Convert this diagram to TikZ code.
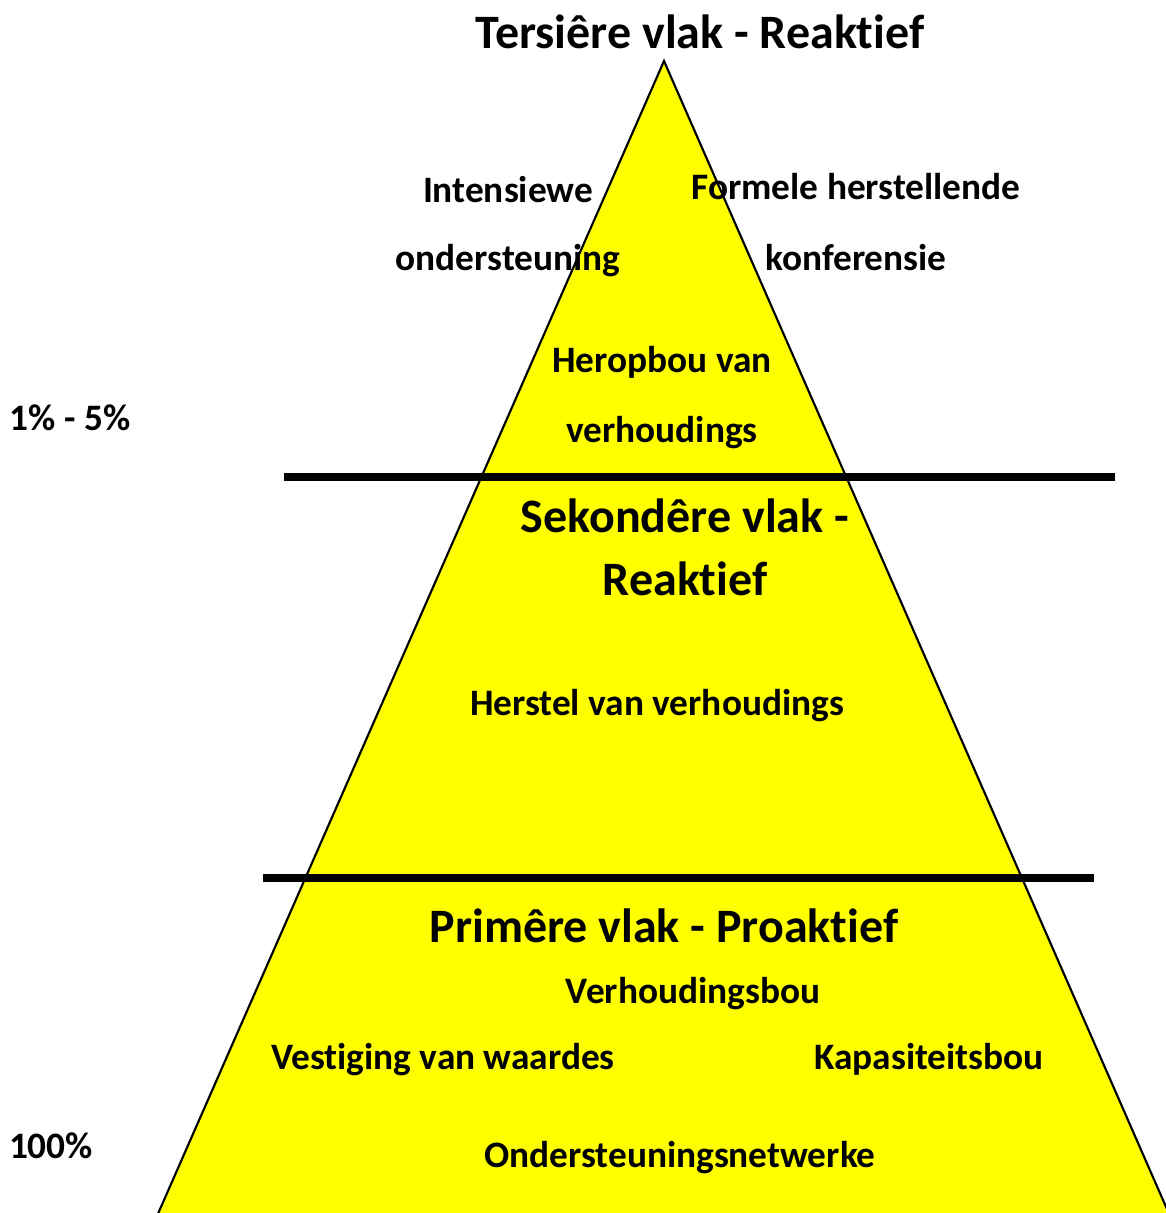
\documentclass[tikz,border=0pt]{standalone}
\usepackage{fontspec}
\setmainfont{Carlito}[Ligatures=NoCommon,RawFeature=-clig]
\definecolor{pyramid}{RGB}{255,255,0}
\begin{document}
\begin{tikzpicture}[x=0.75pt,y=-0.75pt]
\tikzstyle{title}=[font=\bfseries\fontsize{36}{44}\selectfont, align=center, inner sep=0pt]
\tikzstyle{item}=[font=\bfseries\fontsize{28}{34}\selectfont, align=center, inner sep=0pt]
\tikzstyle{divider}=[line width=6pt]

\useasboundingbox (0,0) rectangle (1165,1213);

\coordinate (apex) at (664, 61);
\coordinate (bl) at (157, 1216);
\coordinate (br) at (1170, 1216);
\fill[pyramid] (bl) -- (apex) -- (br) -- cycle;
\draw[line width=1.6pt] (bl) -- (apex) -- (br);

\draw[divider] (284, 477) -- (1115, 477);
\draw[divider] (263, 878) -- (1094, 878);

\node[title] (tert) at (700, 32) {Tersiêre vlak - Reaktief};
\node[item] (int1) at (508, 190) {Intensiewe};
\node[item] (int2) at (508, 261) {ondersteuning};
\node[item] (form1) at (856, 187) {Formele herstellende};
\node[item] (form2) at (856, 258) {konferensie};
\node[item] (her1) at (662, 362) {Heropbou van};
\node[item] (her2) at (662, 433) {verhoudings};
\node[item] (pct1) at (70, 418) {1\% - 5\%};

\node[title] (sek1) at (685, 516) {Sekondêre vlak -};
\node[title] (sek2) at (685, 579) {Reaktief};
\node[item] (hers) at (657, 706) {Herstel van verhoudings};

\node[title] (prim) at (664, 926) {Primêre vlak - Proaktief};
\node[item] (verh) at (693, 994) {Verhoudingsbou};
\node[item] (vest) at (443, 1060) {Vestiging van waardes};
\node[item] (kap) at (929, 1059) {Kapasiteitsbou};
\node[item] (pct2) at (51, 1146) {100\%};
\node[item] (onds) at (680, 1158) {Ondersteuningsnetwerke};
\end{tikzpicture}
\end{document}
